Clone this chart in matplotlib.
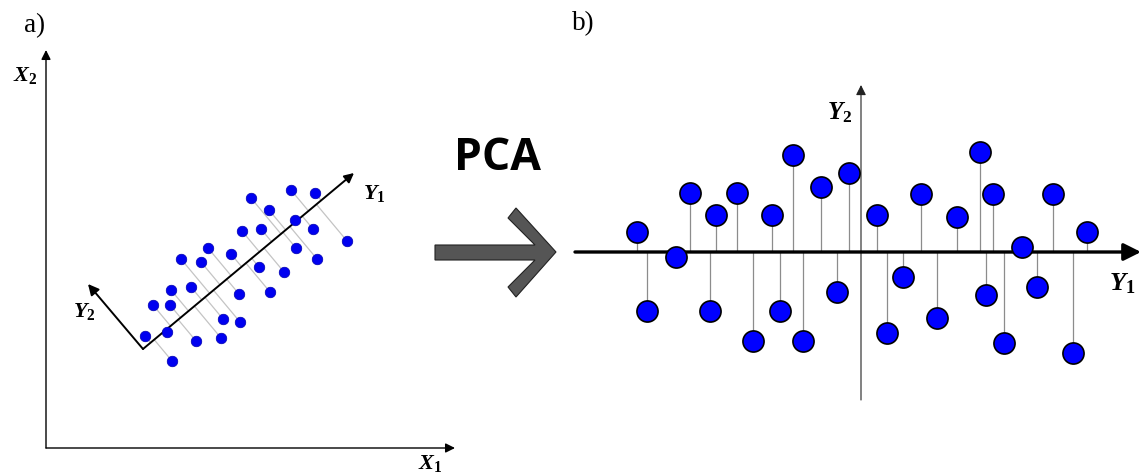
import numpy as np
import matplotlib.pyplot as plt
from matplotlib.patches import Polygon

W, H = 1144, 475

# a) samples in the original (X1, X2) plane
x1 = [99, 121, 126, 107, 124, 125, 145, 150, 175, 177, 194, 193, 135, 155, 162,
      185, 196, 215, 213, 224, 238, 205, 223, 245, 269, 249, 267, 250, 271, 301]
x2 = [112, 116, 87, 143, 143, 158, 161, 107, 110, 129, 126, 154, 189, 186, 200,
      194, 217, 219, 181, 156, 176, 250, 238, 258, 255, 228, 219, 200, 189, 207]

# principal axes drawn over the samples: origin, tip of Y1, tip of Y2
pc_origin = (97, 99)
pc_y1_tip = (308, 275)
pc_y2_tip = (42, 164)

# b) the same kind of cloud expressed on the principal axes
y1 = [-224, -214, -185, -171, -151, -145, -124, -108, -89, -81, -68, -58, -40, -24, -12,
      16, 26, 42, 60, 76, 96, 119, 125, 132, 143, 161, 176, 192, 212, 226]
y2 = [20, -59, -5, 59, -59, 37, 59, -89, 37, -59, 97, -89, 65, -40, 79,
      37, -81, -25, 58, -66, 35, 100, -43, 58, -91, 5, -35, 58, -101, 20]

plt.rcParams['mathtext.fontset'] = 'custom'
plt.rcParams['mathtext.it'] = 'Liberation Serif:bold:italic'
plt.rcParams['mathtext.rm'] = 'Liberation Serif:bold'
plt.rcParams['mathtext.bf'] = 'Liberation Serif:bold'

fig = plt.figure(figsize=(W / 100, H / 100), dpi=100)


def layer(x0, y0):
    # full-figure axes, 1 unit = 1 pixel, origin at pixel (x0, y0)
    ax = fig.add_axes([0, 0, 1, 1])
    ax.set_xlim(-x0, W - x0)
    ax.set_ylim(y0 - H, y0)
    ax.axis('off')
    ax.patch.set_alpha(0)
    return ax


def arrow(ax, start, tip, lw=1.0, scale=14, color='black', z=2):
    ax.annotate('', xy=tip, xytext=start, zorder=z,
                arrowprops=dict(arrowstyle='-|>', color=color, lw=lw,
                                mutation_scale=scale, shrinkA=0, shrinkB=0))


# ---- panel a ----
ax_a = layer(46, 448)
arrow(ax_a, (0, 0), (409, 0), lw=1.0, scale=14)
arrow(ax_a, (0, 0), (0, 398), lw=1.0, scale=14)
ax_a.text(-21, 372, r'$X_2$', fontsize=16, ha='center', va='center')
ax_a.text(384, -15, r'$X_1$', fontsize=16, ha='center', va='center')

# projection of every sample onto Y1
o = np.array(pc_origin, dtype=float)
d = np.array(pc_y1_tip, dtype=float) - o
d /= np.linalg.norm(d)
pts = np.column_stack([x1, x2]).astype(float)
feet = o + np.outer((pts - o) @ d, d)
for p, f in zip(pts, feet):
    ax_a.plot([p[0], f[0]], [p[1], f[1]], color='#c4c4c4', lw=0.9, zorder=1)

arrow(ax_a, pc_origin, pc_y1_tip, lw=1.4, scale=14, z=2)
arrow(ax_a, pc_origin, pc_y2_tip, lw=1.4, scale=16, z=2)
ax_a.text(pc_y1_tip[0] + 20, pc_y1_tip[1] - 21, r'$Y_1$', fontsize=16, ha='center', va='center')
ax_a.text(pc_y2_tip[0] - 4, pc_y2_tip[1] - 28, r'$Y_2$', fontsize=16, ha='center', va='center')
ax_a.plot(x1, x2, 'o', ms=7.6, color='#0000f0', mec='#0000b0', mew=0.5, zorder=3)

# ---- panel b ----
ax_b = layer(861, 252)
ax_b.vlines(y1, 0, y2, color='#8c8c8c', lw=0.9, zorder=1)
arrow(ax_b, (0, -148), (0, 167), lw=0.8, scale=15, color='#222222', z=1)
arrow(ax_b, (-286, 0), (280, 0), lw=2.4, scale=26, z=2)
ax_b.plot(y1, y2, 'o', ms=15.2, color='#0000ff', mec='black', mew=1.2, zorder=3)
ax_b.text(-21, 139, r'$Y_2$', fontsize=18, ha='center', va='center')
ax_b.text(261, -31, r'$Y_1$', fontsize=19, ha='center', va='center')

# ---- labels and the block arrow between panels ----
ax_t = fig.add_axes([0, 0, 1, 1])
ax_t.set_xlim(0, W)
ax_t.set_ylim(H, 0)
ax_t.axis('off')
ax_t.patch.set_alpha(0)

ax_t.text(24, 32, 'a)', fontsize=19.5, family='Liberation Serif', va='baseline')
ax_t.text(572, 30, 'b)', fontsize=19.5, family='Liberation Serif', va='baseline')
ax_t.text(497, 170, 'PCA', fontsize=32, family='Open Sans', fontweight='bold',
          ha='center', va='baseline')

block = [(435, 245), (535, 245), (508, 218), (516, 208), (556, 252),
         (516, 297), (508, 287), (535, 260), (435, 260)]
ax_t.add_patch(Polygon(block, closed=True, facecolor='#555555',
                       edgecolor='#222222', lw=0.8))

fig.savefig('out.png', dpi=100)
